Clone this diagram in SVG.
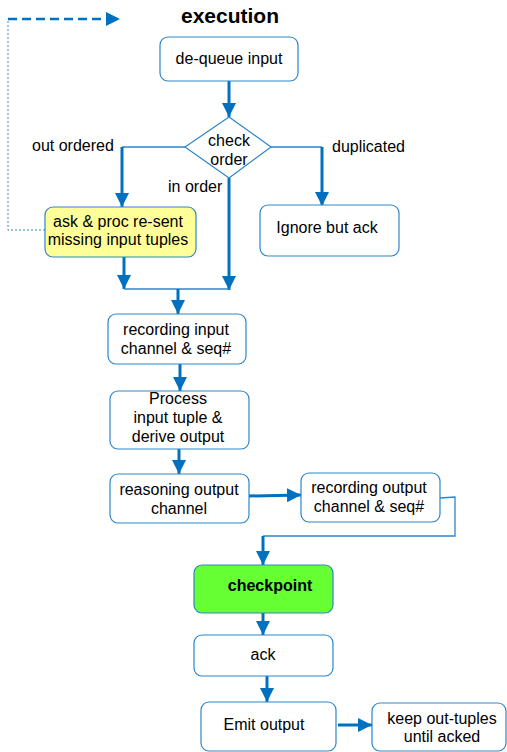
<svg xmlns="http://www.w3.org/2000/svg" width="507" height="752" viewBox="0 0 507 752">
<defs>
<marker id="ah" viewBox="0 0 14 14" refX="14" refY="7" markerWidth="14" markerHeight="14" markerUnits="userSpaceOnUse" orient="auto">
<path d="M0,0 L14,7 L0,14 Z" fill="#0070C0"/>
</marker>
<style>
text{font-family:"Liberation Sans",Arial,sans-serif;font-size:16px;fill:#000;text-anchor:middle}
.box{fill:#fff;stroke:#2E86C8;stroke-width:1.2}
.thick{fill:none;stroke:#0070C0;stroke-width:3}
.thin{fill:none;stroke:#2E86C8;stroke-width:1.3}
.lbl{text-anchor:start}
</style>
</defs>
<rect width="507" height="752" fill="#fff"/>
<text x="230" y="23" style="font-size:21px;font-weight:bold">execution</text>

<g id="connectors">
<path d="M8,19 L120,19" fill="none" stroke="#0070C0" stroke-width="2.5" stroke-dasharray="9,5" marker-end="url(#ah)"/>
<path d="M45,230 L8,230 L8,19" fill="none" stroke="#2E86C8" stroke-width="1" stroke-dasharray="2,2"/>
<path class="thick" d="M229,81 L229,117" marker-end="url(#ah)"/>
<path class="thin" d="M185,147 L122,147"/>
<path class="thick" d="M122,147 L122,207" marker-end="url(#ah)"/>
<path class="thin" d="M271,147 L322,147"/>
<path class="thick" d="M322,147 L322,206" marker-end="url(#ah)"/>
<path class="thick" d="M229,178 L229,290" marker-end="url(#ah)"/>
<path class="thick" d="M124,257 L124,289" marker-end="url(#ah)"/>
<path class="thin" d="M124,289 L229,289"/>
<path class="thick" d="M178,289 L178,314" marker-end="url(#ah)"/>
<path class="thick" d="M180,364 L180,391" marker-end="url(#ah)"/>
<path class="thick" d="M179,449 L179,474" marker-end="url(#ah)"/>
<path class="thick" d="M249,496 L301,495" marker-end="url(#ah)"/>
<path class="thin" d="M440,498 L455,497 L455,536 L263,536"/>
<path class="thick" d="M263,536 L263,565" marker-end="url(#ah)"/>
<path class="thick" d="M263,613 L263,635" marker-end="url(#ah)"/>
<path class="thick" d="M267,676 L267,702" marker-end="url(#ah)"/>
<path class="thick" d="M338,725 L372,725" marker-end="url(#ah)"/>
</g>

<text class="lbl" x="32" y="151">out ordered</text>
<text class="lbl" x="168" y="192">in order</text>
<text class="lbl" x="332" y="152">duplicated</text>

<g id="dequeue">
<rect class="box" x="160" y="37" width="138" height="44" rx="8"/>
<text x="229" y="64">de-queue input</text>
</g>
<g id="check">
<path class="box" d="M229,117 L271,147 L229,178 L185,147 Z"/>
<text x="229" y="146">check</text>
<text x="229" y="165">order</text>
</g>
<g id="ask">
<rect x="45" y="207" width="151" height="50" rx="8" fill="#FFFF99" stroke="#2E86C8" stroke-width="1.2"/>
<text x="118" y="227">ask &amp; proc re-sent</text>
<text x="118" y="245">missing input tuples</text>
</g>
<g id="ignore">
<rect class="box" x="260" y="205" width="139" height="51" rx="8"/>
<text x="327" y="233">Ignore but ack</text>
</g>
<g id="recin">
<rect class="box" x="108" y="314" width="138" height="50" rx="8"/>
<text x="176" y="335">recording input</text>
<text x="176" y="354">channel &amp; seq#</text>
</g>
<g id="process">
<rect class="box" x="110" y="391" width="139" height="58" rx="8"/>
<text x="178" y="404">Process</text>
<text x="178" y="423">input tuple &amp;</text>
<text x="178" y="442">derive output</text>
</g>
<g id="reason">
<rect class="box" x="110" y="474" width="139" height="49" rx="8"/>
<text x="179" y="495">reasoning output</text>
<text x="179" y="514">channel</text>
</g>
<g id="recout">
<rect class="box" x="301" y="473" width="139" height="49" rx="8"/>
<text x="369" y="493">recording output</text>
<text x="369" y="512">channel &amp; seq#</text>
</g>
<g id="checkpoint">
<rect x="194" y="565" width="139" height="48" rx="8" fill="#66FF33" stroke="#2E86C8" stroke-width="1.2"/>
<text x="270" y="591" style="font-weight:bold">checkpoint</text>
</g>
<g id="ack">
<rect class="box" x="194" y="635" width="139" height="41" rx="8"/>
<text x="263" y="660">ack</text>
</g>
<g id="emit">
<rect class="box" x="201" y="702" width="135" height="49" rx="8"/>
<text x="264" y="730">Emit output</text>
</g>
<g id="keep">
<rect class="box" x="372" y="703" width="134" height="48" rx="8"/>
<text x="442" y="724">keep out-tuples</text>
<text x="442" y="742">until acked</text>
</g>
</svg>
